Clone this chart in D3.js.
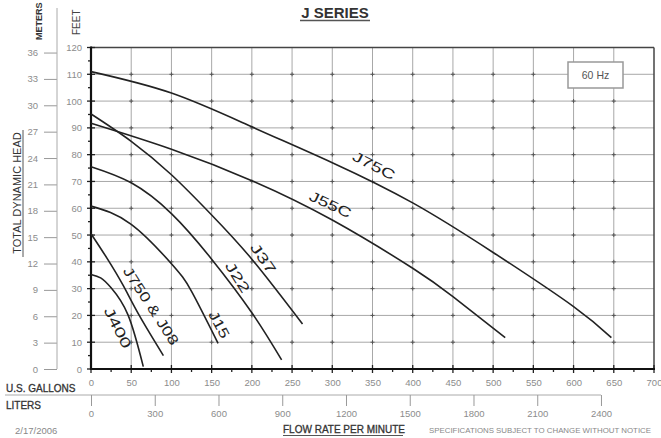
<!DOCTYPE html>
<html><head><meta charset="utf-8">
<script src="https://cdn.jsdelivr.net/npm/d3@7"></script>
<style>
html,body{margin:0;padding:0;background:#fff;}
svg{display:block;font-family:"Liberation Sans",Arial,sans-serif;}
</style></head>
<body><svg id="c" width="661" height="438"></svg>
<script>
// ---- data ----
const feetTicks = [0,10,20,30,40,50,60,70,80,90,100,110,120];
const meterTicks = [0,3,6,9,12,15,18,21,24,27,30,33,36];
const gallonTicks = [0,50,100,150,200,250,300,350,400,450,500,550,600,650,700];
const literTicks = [0,300,600,900,1200,1500,1800,2100,2400];
const seriesNames = ["J75C","J55C","J37","J22","J15","J750 & J08","J400"];
const j75c = [[0,111],[100,103],[200,90.4],[300,77],[400,62],[500,43.5],[600,23.3],[647,11.7]];
const j55c = [[0,91.7],[100,82],[200,70.3],[300,55.6],[400,37.6],[450,27],[515,11.7]];
const j37 = [[0,95.2],[50,85],[100,72.5],[150,57.5],[200,41],[263,16.8]];
const j22 = [[0,75.5],[50,69.5],[100,58],[150,41],[200,21],[237,3.4]];
const j15 = [[0,60.8],[50,54],[100,39.3],[125,29],[158,9.6]];
const j750 = [[0,50.5],[20,41.3],[40,31.2],[60,20],[90,5]];
const j400 = [[0,35.3],[12,34],[25,30.3],[46,20.2],[65,0.9]];
const seriesValues = [j75c,j55c,j37,j22,j15,j750,j400];

// ---- layout ----
const svg = d3.select("#c");
const x = d3.scaleLinear().domain([0,700]).range([91,654]);
const y = d3.scaleLinear().domain([0,120]).range([369,47.5]);
const xL = d3.scaleLinear().domain([0,700*3.785]).range([91,654]);
const yM = d3.scaleLinear().domain([0,120/3.281]).range([369,47.5]);

// grid
const g = svg.append("g");
g.selectAll("line.v").data(gallonTicks.slice(1,-1)).join("line")
  .attr("x1",d=>x(d)).attr("x2",d=>x(d)).attr("y1",y(120)).attr("y2",y(0))
  .attr("stroke","#a8a8a8").attr("stroke-width",1);
g.selectAll("line.h").data(feetTicks.slice(1,-1)).join("line")
  .attr("x1",x(0)).attr("x2",x(700)).attr("y1",d=>y(d)).attr("y2",d=>y(d))
  .attr("stroke","#a8a8a8").attr("stroke-width",1);
const pts=[];
gallonTicks.slice(1,-1).forEach(a=>feetTicks.slice(1,-1).forEach(b=>pts.push([a,b])));
g.selectAll("path.cr").data(pts).join("path")
  .attr("d",d=>`M${x(d[0])-2},${y(d[1])}h4M${x(d[0])},${y(d[1])-2}v4`)
  .attr("stroke","#555").attr("stroke-width",1);

// frame
svg.append("line").attr("x1",x(0)).attr("x2",x(700)).attr("y1",y(120)).attr("y2",y(120)).attr("stroke","#444").attr("stroke-width",1.5);
svg.append("line").attr("x1",x(700)).attr("x2",x(700)).attr("y1",y(120)).attr("y2",y(0)).attr("stroke","#444").attr("stroke-width",1.5);

// minor ticks
const minorY = d3.range(5,120,10);
svg.selectAll("line.my").data(minorY).join("line")
  .attr("x1",x(0)-3).attr("x2",x(0)).attr("y1",d=>y(d)).attr("y2",d=>y(d)).attr("stroke","#222").attr("stroke-width",1.3);
const minorX = d3.range(25,700,50);
svg.selectAll("line.mx").data(minorX).join("line")
  .attr("x1",d=>x(d)).attr("x2",d=>x(d)).attr("y1",y(0)).attr("y2",y(0)+3).attr("stroke","#222").attr("stroke-width",1.3);
svg.selectAll("line.My").data(feetTicks).join("line")
  .attr("x1",x(0)-4).attr("x2",x(0)+4).attr("y1",d=>y(d)).attr("y2",d=>y(d)).attr("stroke","#222").attr("stroke-width",1.3);
svg.selectAll("line.Mx").data(gallonTicks).join("line")
  .attr("x1",d=>x(d)).attr("x2",d=>x(d)).attr("y1",y(0)-4).attr("y2",y(0)+4).attr("stroke","#222").attr("stroke-width",1.3);

// feet axis
const ax = svg.append("g").attr("transform",`translate(${x(0)},0)`)
  .call(d3.axisLeft(y).tickValues(feetTicks).tickSize(0).tickPadding(9));
ax.select(".domain").remove();
ax.selectAll("text").attr("fill","#8c8c8c").style("font-size","9.5px").style("font-family","Liberation Sans");
svg.append("line").attr("x1",x(0)).attr("x2",x(0)).attr("y1",y(120)-1).attr("y2",y(0)+1).attr("stroke","#111").attr("stroke-width",2.2);

// gallons axis
const bx = svg.append("g").attr("transform",`translate(0,${y(0)})`)
  .call(d3.axisBottom(x).tickValues(gallonTicks).tickSize(0).tickPadding(10));
bx.select(".domain").remove();
bx.selectAll("text").attr("fill","#8c8c8c").style("font-size","9.5px").style("font-family","Liberation Sans");
svg.append("line").attr("x1",x(0)-1).attr("x2",x(700)+1).attr("y1",y(0)).attr("y2",y(0)).attr("stroke","#111").attr("stroke-width",2.2);

// meters axis
const mx = svg.append("g").attr("transform","translate(57,0)")
  .call(d3.axisLeft(yM).tickValues(meterTicks).tickSize(13).tickPadding(6));
mx.select(".domain").remove();
mx.selectAll("line").attr("stroke","#999");
mx.selectAll("text").attr("fill","#8c8c8c").style("font-size","9.5px").style("font-family","Liberation Sans");
svg.append("line").attr("x1",57).attr("x2",57).attr("y1",8).attr("y2",yM(0)).attr("stroke","#aaa").attr("stroke-width",1);

// liters axis
svg.append("line").attr("x1",5).attr("x2",xL(2400)).attr("y1",395).attr("y2",395).attr("stroke","#aaa").attr("stroke-width",1);
const lx = svg.append("g").attr("transform","translate(0,395)")
  .call(d3.axisBottom(xL).tickValues(literTicks).tickFormat(d3.format("d")).tickSize(11).tickPadding(4));
lx.select(".domain").remove();
lx.selectAll("line").attr("stroke","#999");
lx.selectAll("text").attr("fill","#8c8c8c").style("font-size","9.5px").style("font-family","Liberation Sans");

// curves
const line = d3.line().x(d=>x(d[0])).y(d=>y(d[1])).curve(d3.curveNatural);
svg.selectAll("path.curve").data(seriesValues).join("path")
  .attr("d",line).attr("fill","none").attr("stroke","#222").attr("stroke-width",1.6);

// curve labels (gpm, ft, angle, stretched length)
const labelPlace = [[351,75.5,27,46],[297,61,25,45],[213,41,55,34],[181,34,58,34],[158,16.4,62,29],[73.4,23.3,57,90],[32,15.2,63,44]];
svg.selectAll("text.lab").data(seriesNames).join("text")
  .attr("transform",(d,i)=>`translate(${x(labelPlace[i][0])},${y(labelPlace[i][1])}) rotate(${labelPlace[i][2]})`)
  .attr("text-anchor","middle").attr("dominant-baseline","middle")
  .attr("textLength",(d,i)=>labelPlace[i][3]).attr("lengthAdjust","spacingAndGlyphs")
  .attr("fill","#222").style("font-size","14px").text(d=>d);

// 60 Hz box
svg.append("rect").attr("x",568).attr("y",62).attr("width",55).attr("height",26).attr("fill","#fff").attr("stroke","#999").attr("stroke-width",1.5);
svg.append("text").attr("x",595.5).attr("y",79).attr("text-anchor","middle").attr("fill","#555").style("font-size","10.5px").text("60 Hz");

// titles
svg.append("text").attr("x",335).attr("y",18).attr("text-anchor","middle").attr("fill","#333")
  .style("font-size","15px").style("font-weight","bold").text("J SERIES");
svg.append("line").attr("x1",300).attr("x2",370).attr("y1",20.5).attr("y2",20.5).attr("stroke","#555").attr("stroke-width",1.3);

svg.append("text").attr("transform","translate(42,40) rotate(-90)").attr("fill","#333")
  .style("font-size","9px").style("font-weight","bold").text("METERS");
svg.append("text").attr("transform","translate(80,35) rotate(-90)").attr("fill","#444")
  .style("font-size","10px").text("FEET");
svg.append("text").attr("transform","translate(21,193) rotate(-90)").attr("text-anchor","middle").attr("fill","#333")
  .style("font-size","11px").text("TOTAL DYNAMIC HEAD");
svg.append("line").attr("x1",23).attr("x2",23).attr("y1",130).attr("y2",257).attr("stroke","#555").attr("stroke-width",1);

svg.append("text").attr("x",6).attr("y",392).attr("fill","#333").style("font-size","10px").style("stroke","#333").style("stroke-width","0.3px").text("U.S. GALLONS");
svg.append("text").attr("x",6).attr("y",409).attr("fill","#333").style("font-size","10px").style("stroke","#333").style("stroke-width","0.3px").text("LITERS");

svg.append("text").attr("x",15).attr("y",434).attr("fill","#888").style("font-size","9.5px").text("2/17/2006");
svg.append("text").attr("x",283).attr("y",433).attr("fill","#333").style("font-size","10px").style("stroke","#333").style("stroke-width","0.3px").text("FLOW RATE PER MINUTE");
svg.append("line").attr("x1",283).attr("x2",403).attr("y1",435.5).attr("y2",435.5).attr("stroke","#555").attr("stroke-width",1);
svg.append("text").attr("x",429).attr("y",433).attr("fill","#888").style("font-size","7.8px")
  .attr("textLength",222).attr("lengthAdjust","spacingAndGlyphs").text("SPECIFICATIONS SUBJECT TO CHANGE WITHOUT NOTICE");
</script></body></html>
